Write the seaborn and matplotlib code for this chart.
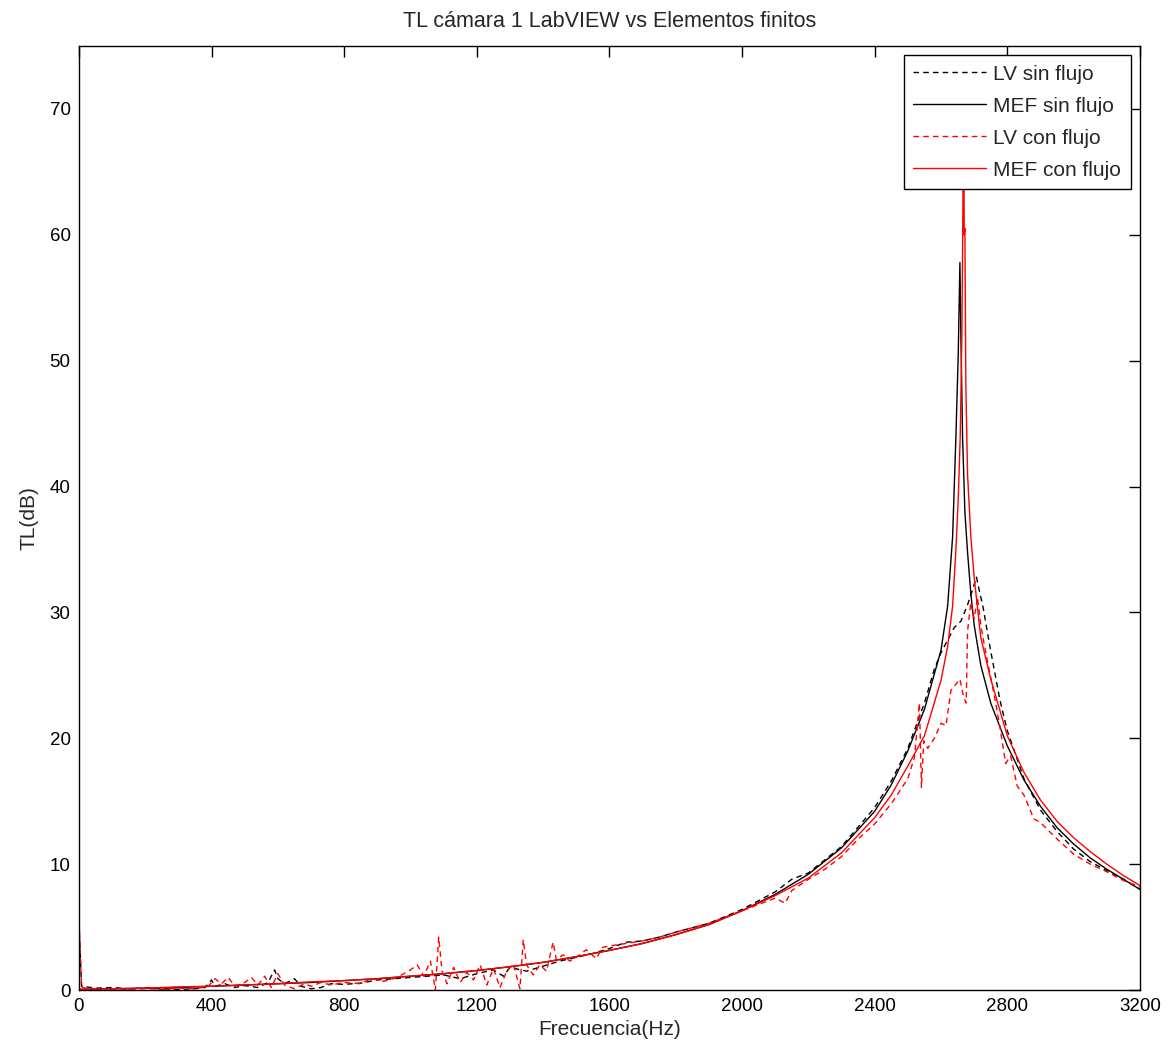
import numpy as np
import pandas as pd
import matplotlib
matplotlib.use('Agg')
import matplotlib.pyplot as plt
from matplotlib import font_manager
import seaborn as sns

# MEF sin flujo (black solid)
f_mef_sin = [0, 100, 200, 300, 400, 500, 600, 700, 800, 900, 1000, 1100, 1200, 1300,
             1400, 1500, 1600, 1700, 1800, 1900, 2000, 2100, 2200, 2300, 2400, 2450,
             2500, 2550, 2600, 2620, 2635, 2645, 2652, 2657, 2660, 2665, 2672, 2680,
             2690, 2700, 2720, 2750, 2800, 2850, 2900, 2950, 3000, 3050, 3100, 3150, 3200]
tl_mef_sin = [0.05, 0.1, 0.15, 0.2, 0.3, 0.4, 0.5, 0.6, 0.75, 0.9, 1.1, 1.3, 1.55, 1.85,
              2.2, 2.65, 3.15, 3.7, 4.4, 5.2, 6.3, 7.6, 9.2, 11.3, 14.2, 16.3,
              19.0, 22.3, 27.0, 30.5, 36.0, 44.0, 50.5, 57.8, 52.0, 44.0, 38.0, 34.8,
              31.5, 29.0, 25.8, 22.8, 19.4, 16.7, 14.6, 12.9, 11.6, 10.5, 9.6, 8.8, 8.0]

# MEF con flujo (red solid)
f_mef_con = [0, 100, 200, 300, 400, 500, 600, 700, 800, 900, 1000, 1100, 1200, 1300,
             1400, 1500, 1600, 1700, 1800, 1900, 2000, 2100, 2200, 2300, 2400, 2450,
             2500, 2550, 2600, 2620, 2635, 2645, 2652, 2658, 2663, 2666, 2668, 2670,
             2672, 2675, 2680, 2690, 2700, 2720, 2750, 2800, 2850, 2900, 2950, 3000,
             3050, 3100, 3150, 3200]
tl_mef_con = [0.05, 0.1, 0.15, 0.25, 0.3, 0.4, 0.5, 0.65, 0.75, 0.9, 1.1, 1.3, 1.55, 1.85,
              2.2, 2.65, 3.15, 3.7, 4.4, 5.2, 6.3, 7.5, 8.9, 10.9, 13.7, 15.5,
              17.8, 20.2, 24.6, 27.3, 30.5, 35.0, 39.0, 44.0, 52.0, 62.0, 74.0, 60.0,
              60.5, 48.0, 41.0, 36.0, 32.8, 28.0, 24.7, 20.2, 17.3, 15.1, 13.4, 12.1,
              11.0, 10.0, 9.1, 8.3]

# LV sin flujo (black dashed)
f_lv_sin = [0, 8, 50, 100, 150, 200, 250, 300, 350, 380, 400, 410, 440, 470, 500, 540,
            570, 590, 600, 620, 650, 670, 700, 730, 760, 800, 850, 900, 950, 1000, 1050,
            1100, 1150, 1200, 1250, 1280, 1300, 1350, 1400, 1450, 1500, 1550, 1600, 1650,
            1700, 1750, 1800, 1900, 2000, 2100, 2150, 2200, 2300, 2400, 2450, 2500, 2550,
            2580, 2600, 2620, 2640, 2660, 2680, 2695, 2707, 2715, 2727, 2748, 2778, 2800,
            2850, 2900, 2950, 3000, 3050, 3100, 3150, 3200]
tl_lv_sin = [5.3, 0.3, 0.15, 0.2, 0.1, 0.15, 0.1, 0.05, 0.1, 0.2, 0.8, 0.3, 0.5, 0.2, 0.35, 0.2,
             0.6, 1.6, 0.9, 0.5, 0.9, 0.3, 0.1, 0.2, 0.5, 0.45, 0.55, 0.8, 0.9, 1.0, 1.1,
             1.2, 0.9, 1.3, 1.6, 1.1, 1.8, 1.5, 1.9, 2.3, 2.6, 2.9, 3.3, 3.8,
             3.9, 4.2, 4.6, 5.3, 6.4, 7.8, 8.8, 9.3, 11.4, 14.5, 16.6, 19.2, 22.8,
             25.5, 26.8, 27.8, 28.8, 29.3, 30.6, 31.8, 32.8, 31.8, 30.4, 27.2, 23.0, 20.6,
             16.8, 14.3, 12.6, 11.2, 10.2, 9.5, 8.8, 8.0]

# LV con flujo (red dashed)
f_lv_con = [0, 8, 50, 100, 150, 200, 250, 300, 350, 390, 410, 430, 450, 470, 500, 520,
            540, 560, 580, 600, 620, 650, 680, 700, 730, 760, 800, 850, 880, 920, 960,
            1000, 1020, 1040, 1060, 1075, 1085, 1095, 1110, 1130, 1150, 1170, 1190, 1210,
            1230, 1250, 1270, 1290, 1310, 1330, 1340, 1350, 1370, 1390, 1410, 1430, 1440,
            1460, 1480, 1500, 1530, 1560, 1580, 1600, 1650, 1700, 1750, 1800, 1900, 2000,
            2050, 2100, 2130, 2150, 2200, 2250, 2300, 2350, 2400, 2450, 2500, 2520, 2535,
            2541, 2548, 2560, 2580, 2600, 2615, 2630, 2645, 2657, 2668, 2676, 2680, 2690,
            2700, 2710, 2720, 2730, 2745, 2765, 2780, 2795, 2810, 2830, 2850, 2880, 2900,
            2950, 3000, 3050, 3100, 3150, 3200]
tl_lv_con = [5.6, 0.2, 0.05, 0.1, 0.05, 0.1, 0.05, 0.15, 0.1, 0.3, 0.9, 0.5, 1.0, 0.3, 0.6, 1.0,
             0.4, 1.1, 0.2, 1.3, 0.4, 0.1, 0.5, 0.3, 0.6, 0.4, 0.6, 0.5, 0.9, 0.7, 1.0,
             1.6, 2.0, 1.1, 2.3, 0.0, 4.2, 1.5, 0.5, 1.8, 0.6, 1.4, 0.8, 2.0,
             0.4, 1.7, 0.2, 1.5, 2.1, 0.1, 4.0, 2.0, 1.2, 2.0, 1.5, 3.8, 2.4,
             2.8, 2.3, 2.6, 3.2, 2.5, 3.4, 3.5, 3.7, 3.9, 4.2, 4.6, 5.3, 6.3,
             6.8, 7.3, 6.9, 7.9, 8.8, 9.6, 10.6, 12.0, 13.2, 14.8, 16.8, 18.5, 22.8,
             16.1, 19.8, 19.2, 20.0, 21.2, 21.0, 23.8, 24.3, 24.7, 23.3, 22.8, 28.5, 30.8,
             29.5, 31.2, 29.0, 27.5, 25.5, 22.8, 20.5, 18.0, 18.6, 16.2, 15.5, 13.6, 13.3,
             12.0, 10.8, 10.0, 9.4, 8.7, 8.2]

xticks = [0, 400, 800, 1200, 1600, 2000, 2400, 2800, 3200]
yticks = [0, 10, 20, 30, 40, 50, 60, 70]

sns.set_style('white')
installed = {f.name for f in font_manager.fontManager.ttflist}
base_font = 'Liberation Sans' if 'Liberation Sans' in installed else 'DejaVu Sans'
plt.rcParams['font.family'] = [base_font, 'DejaVu Sans']

fig = plt.figure(figsize=(11.7, 10.53), dpi=100)
ax = fig.add_axes([0.0675, 0.0598, 0.9068, 0.8965])

series = [
    (f_lv_sin, tl_lv_sin, 'LV sin flujo', 'black', '--'),
    (f_mef_sin, tl_mef_sin, 'MEF sin flujo', 'black', '-'),
    (f_lv_con, tl_lv_con, 'LV con flujo', 'red', '--'),
    (f_mef_con, tl_mef_con, 'MEF con flujo', 'red', '-'),
]
for f, tl, name, col, ls in series:
    df = pd.DataFrame({'f': f, 'tl': tl})
    line_kw = {'dashes': (4, 3)} if ls == '--' else {}
    sns.lineplot(data=df, x='f', y='tl', ax=ax, color=col, linewidth=1.0,
                 label=name, estimator=None, sort=False, **line_kw)

ax.set_xlim(0, 3200)
ax.set_ylim(0, 75)
ax.set_xticks(xticks)
ax.set_yticks(yticks)
ax.tick_params(direction='in', length=8, width=1, top=True, right=True,
               labelsize=13.5, pad=6, colors='black')
for sp in ax.spines.values():
    sp.set_color('black')
    sp.set_linewidth(1.0)

ax.set_xlabel('Frecuencia(Hz)', fontsize=15, labelpad=3)
ax.set_ylabel('TL(dB)', fontsize=15, labelpad=8)
ax.set_title('TL cámara 1 LabVIEW vs Elementos finitos', fontsize=15.5, pad=14)

leg = ax.legend(loc='upper right', fontsize=15, frameon=True, fancybox=False,
                edgecolor='black', framealpha=1, handlelength=3.5,
                borderaxespad=0.45, labelspacing=0.62, handletextpad=0.35,
                borderpad=0.45)
leg.get_frame().set_linewidth(1.0)
leg.set_zorder(10)

fig.savefig('out.png', dpi=100, facecolor='white')
